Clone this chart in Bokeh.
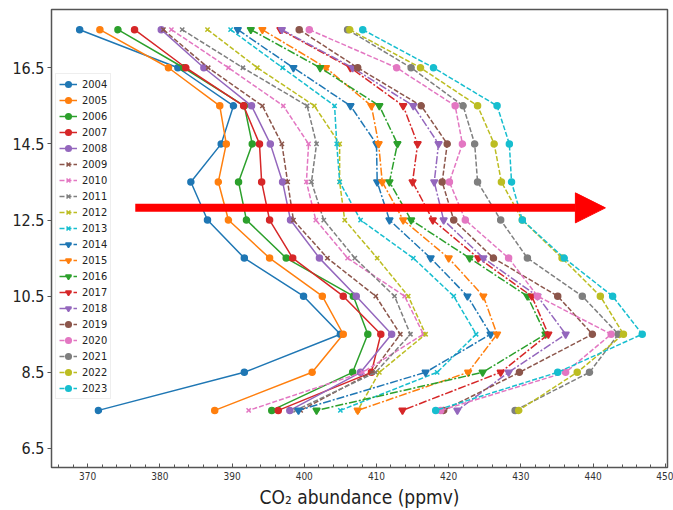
import math
from bokeh.plotting import figure
from bokeh.models import (Range1d, FixedTicker, SingleIntervalTicker, Legend, LegendItem,
                          Arrow, NormalHead, Label)
from bokeh.embed import file_html
from bokeh.resources import INLINE

# ---------------- data ----------------
altitude_km = [17.5, 16.5, 15.5, 14.5, 13.5, 12.5, 11.5, 10.5, 9.5, 8.5, 7.5]
years = [str(y) for y in range(2004, 2024)]

co2_2004 = [368.9, 382.5, 390.2, 388.5, 384.3, 386.6, 391.7, 399.9, 405.0, 391.7, 371.5]
co2_2005 = [371.7, 381.2, 388.3, 389.2, 388.1, 389.5, 395.2, 402.5, 405.4, 401.1, 387.6]
co2_2006 = [374.2, 383.3, 391.7, 392.8, 390.9, 392.0, 397.5, 406.8, 408.8, 406.7, 395.5]
co2_2007 = [376.5, 383.6, 391.6, 393.8, 394.1, 395.2, 398.4, 405.4, 410.6, 409.3, 396.4]
co2_2008 = [380.2, 386.1, 392.7, 395.3, 397.0, 398.1, 402.1, 407.2, 412.1, 407.8, 398.0]
co2_2009 = [380.5, 386.7, 394.2, 396.9, 397.7, 398.5, 403.2, 409.9, 413.3, 409.4, 399.5]
co2_2010 = [381.6, 389.5, 397.1, 400.6, 400.3, 401.6, 406.0, 413.9, 416.5, 408.1, 392.3]
co2_2011 = [383.1, 391.5, 400.4, 401.7, 401.0, 402.7, 407.0, 412.5, 414.7, 409.9, 398.8]
co2_2012 = [386.6, 393.5, 401.4, 404.9, 404.9, 405.6, 410.1, 414.4, 416.8, 410.4, 407.4]
co2_2013 = [389.8, 397.0, 404.2, 404.5, 404.9, 407.8, 415.1, 420.7, 423.8, 418.4, 405.0]
co2_2014 = [390.8, 398.5, 406.4, 410.0, 410.1, 411.8, 417.5, 422.6, 425.8, 416.8, 399.2]
co2_2015 = [394.2, 403.0, 409.3, 410.3, 410.8, 413.7, 420.0, 424.8, 426.7, 422.7, 407.4]
co2_2016 = [392.6, 402.2, 410.4, 412.9, 411.8, 414.8, 422.9, 430.9, 433.4, 424.7, 401.7]
co2_2017 = [396.7, 406.4, 413.7, 415.7, 415.0, 417.8, 424.1, 431.5, 433.8, 427.2, 413.6]
co2_2018 = [396.9, 406.7, 415.1, 418.6, 418.0, 419.3, 424.8, 432.3, 436.2, 428.3, 421.2]
co2_2019 = [399.3, 407.4, 416.2, 419.8, 419.1, 420.7, 426.2, 435.1, 439.9, 429.8, 419.3]
co2_2020 = [400.7, 412.8, 420.9, 421.9, 420.1, 422.3, 428.3, 432.3, 442.5, 436.2, 418.9]
co2_2021 = [406.0, 414.8, 422.0, 423.6, 424.0, 427.2, 430.9, 438.5, 443.5, 439.5, 429.2]
co2_2022 = [406.3, 416.1, 424.0, 426.3, 427.3, 430.2, 435.7, 441.0, 444.2, 437.8, 429.7]
co2_2023 = [408.1, 417.9, 426.7, 428.4, 428.7, 430.2, 436.0, 442.7, 446.8, 435.1, 418.2]

series = [co2_2004, co2_2005, co2_2006, co2_2007, co2_2008, co2_2009, co2_2010,
          co2_2011, co2_2012, co2_2013, co2_2014, co2_2015, co2_2016, co2_2017,
          co2_2018, co2_2019, co2_2020, co2_2021, co2_2022, co2_2023]

x_ticks_major = 10
y_tick_values = [6.5, 8.5, 10.5, 12.5, 14.5, 16.5]

# arrow overlay (annotation in the reference)
arrow_x_start, arrow_x_end, arrow_y = 376.6, 441.7, 12.82

# ---------------- styles ----------------
tab10 = ["#1f77b4", "#ff7f0e", "#2ca02c", "#d62728", "#9467bd",
         "#8c564b", "#e377c2", "#7f7f7f", "#bcbd22", "#17becf"]
group_styles = [
    ("solid", "circle", 6),
    ("5 2", "x", 6),
    ("8 2 2 2", "inverted_triangle", 7),
    ("5 2", "circle", 6),
]

NARROW = "'DejaVu Sans Condensed', 'Roboto Condensed', 'Liberation Sans Narrow', Roboto, sans-serif"

p = figure(width=673, height=510, output_backend="svg", toolbar_location=None,
           x_range=Range1d(365, 450.3), y_range=Range1d(6.0, 18.03),
           min_border_left=51, min_border_right=6, min_border_top=9, min_border_bottom=43)
p.background_fill_color = "white"
p.border_fill_color = "white"
p.outline_line_color = "#555555"
p.outline_line_width = 1.5
p.xgrid.visible = False
p.ygrid.visible = False

items = []
for i, (yr, vals) in enumerate(zip(years, series)):
    g = i // 5
    dash, marker, msize = group_styles[g]
    color = tab10[i % 5 + (5 if g in (1, 3) else 0)]
    r1 = p.line(vals, altitude_km, line_color=color, line_width=1.5, line_dash=dash)
    r2 = p.scatter(vals, altitude_km, marker=marker, size=msize, fill_color=color,
                   line_color=color, line_width=1.5)
    items.append(LegendItem(label=yr, renderers=[r1, r2]))

legend = Legend(items=items, location=(4, 68))
legend.label_text_font = NARROW
legend.label_text_font_size = "11px"
legend.label_text_color = "#222222"
legend.glyph_height = 14
legend.glyph_width = 18
legend.label_height = 14
legend.spacing = 2
legend.padding = 3
legend.margin = 0
legend.label_standoff = 5
legend.border_line_color = "#dddddd"
legend.background_fill_alpha = 0.85
p.add_layout(legend, "center")

# axes
xa = p.xaxis[0]
xa.ticker = SingleIntervalTicker(interval=x_ticks_major, num_minor_ticks=5)
xa.axis_label = "CO\u2082 abundance (ppmv)"
xa.axis_label_text_font = NARROW
xa.axis_label_text_font_size = "19px"
xa.axis_label_text_font_style = "normal"
xa.axis_label_text_color = "#222222"
xa.axis_label_standoff = 3
xa.major_label_text_font = NARROW
xa.major_label_text_font_size = "10px"
xa.major_label_text_color = "#333333"
xa.major_label_standoff = 4
xa.major_tick_in = 4
xa.major_tick_out = 0
xa.minor_tick_in = 3
xa.minor_tick_out = 0
xa.axis_line_color = "#555555"
xa.major_tick_line_color = "#555555"
xa.minor_tick_line_color = "#555555"

ya = p.yaxis[0]
ya.ticker = FixedTicker(ticks=y_tick_values)
ya.major_label_text_font = NARROW
ya.major_label_text_font_size = "16px"
ya.major_label_text_color = "#222222"
ya.major_label_standoff = 3
ya.major_tick_in = 0
ya.major_tick_out = 4
ya.minor_tick_line_color = None
ya.axis_line_color = "#555555"
ya.major_tick_line_color = "#555555"

ylab = Label(x=359.7, y=12.03, text="Altitude (km)", angle=math.pi / 2,
             text_font="DejaVu Sans", text_font_size="20px", text_color="#222222",
             text_align="center", text_baseline="middle")
p.add_layout(ylab)

arrow = Arrow(end=NormalHead(size=30, fill_color="#ff0000", line_color="#ff0000"),
              x_start=arrow_x_start, y_start=arrow_y, x_end=arrow_x_end, y_end=arrow_y,
              line_color="#ff0000", line_width=8)
p.add_layout(arrow)

open("out.html", "w").write(file_html(p, INLINE))
